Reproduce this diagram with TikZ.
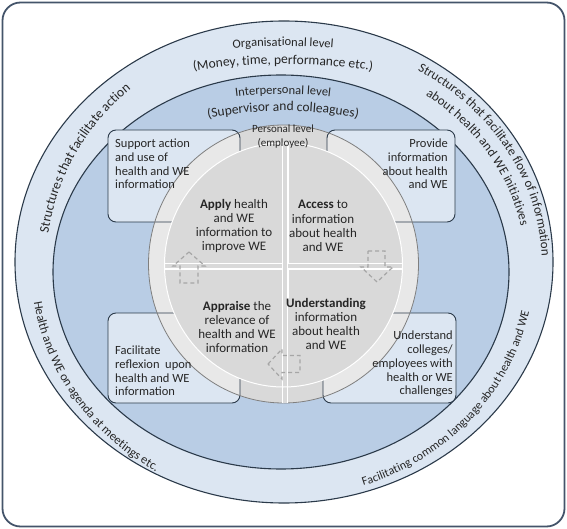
\documentclass[tikz,border=0pt]{standalone}
\usepackage{fontspec}
\setmainfont{Carlito}
\usetikzlibrary{decorations.text}
\definecolor{frameC}{HTML}{44546A}
\definecolor{outerC}{HTML}{DCE6F2}
\definecolor{interC}{HTML}{B9CDE5}
\definecolor{boxC}{HTML}{DCE6F2}
\definecolor{lineC}{HTML}{2B3A4A}
\definecolor{ringC}{HTML}{E8E8E8}
\definecolor{diskC}{HTML}{D9D9D9}
\definecolor{ringline}{HTML}{7F7F7F}
\definecolor{arrowC}{HTML}{A6A6A6}
\definecolor{txtC}{HTML}{262626}
\newcommand\curvfont{\fontsize{13}{15}\selectfont}
\newcommand\curvfontA{\fontsize{12.5}{14}\selectfont}
\newcommand\curvfontB{\fontsize{13.5}{15}\selectfont}
\newcommand\curvfontS{\fontsize{12}{13}\selectfont}
\begin{document}
\begin{tikzpicture}[x=1pt,y=1pt,
  boxst/.style={fill=boxC, draw=lineC, line width=0.9pt, rounded corners=8pt},
  boxline/.style={draw=lineC, line width=0.9pt, rounded corners=8pt},
  boxtext/.style={inner sep=0pt, font=\fontsize{12.5}{13.8}\selectfont, text=txtC},
  qtext/.style={inner sep=0pt, align=center, font=\fontsize{13}{14.3}\selectfont, text=txtC},
  ptext/.style={inner sep=0pt, font=\fontsize{11}{12}\selectfont, text=txtC},
  dasharrow/.style={draw=arrowC, line width=1.2pt, dash pattern=on 4pt off 3pt},
  curvtext/.style={decorate, decoration={text along path, text align=center, text color=txtC, text={#1}}}
]
\useasboundingbox (0,0) rectangle (567,-529);
% frame
\draw[frameC, line width=1.8pt, rounded corners=18pt] (2.5,-2.5) rectangle (564.5,-526.5);
% level ellipses
\draw[lineC, line width=1.1pt, fill=outerC] (284,-262) ellipse[x radius=269, y radius=241];
\draw[lineC, line width=1.1pt, fill=interC] (281,-272) ellipse[x radius=228, y radius=197];
% boxes
\draw[boxst] (108,-130) rectangle (240,-222);
\draw[boxst] (327,-130) rectangle (455,-222);
\draw[boxst] (108,-313) rectangle (240,-403);
\draw[boxst] (323,-313) rectangle (456,-403);
% ring
\fill[ringC] (283.5,-264) ellipse[x radius=135, y radius=139];
\begin{scope}
  \clip (283.5,-264) ellipse[x radius=135, y radius=139];
  \fill[diskC] (240,-100) rectangle (327,-200);
  \fill[diskC] (240,-330) rectangle (323,-420);
  \draw[boxline] (108,-130) rectangle (240,-222);
  \draw[boxline] (327,-130) rectangle (455,-222);
  \draw[boxline] (108,-313) rectangle (240,-403);
  \draw[boxline] (323,-313) rectangle (456,-403);
\end{scope}
\draw[ringline, line width=0.8pt] (283.5,-264) ellipse[x radius=135, y radius=139];
% disk
\fill[diskC] (283.5,-265) ellipse[x radius=119, y radius=122];
\begin{scope}
  \clip (283.5,-265) ellipse[x radius=119, y radius=122];
  \draw[white, line width=7pt] (160,-266) -- (410,-266);
  \draw[white, line width=7pt] (285,-140) -- (285,-300);
  \draw[diskC, line width=4.5pt] (160,-266) -- (410,-266);
  \draw[diskC, line width=4.5pt] (285,-140) -- (285,-300);
\end{scope}
\begin{scope}
  \clip (283.5,-264) ellipse[x radius=135, y radius=139];
  \draw[white, line width=6pt] (285,-262) -- (285,-410);
  \draw[diskC, line width=4pt] (285,-262) -- (285,-410);
\end{scope}
\draw[white, line width=1pt] (283.5,-265) ellipse[x radius=119, y radius=122];
% dashed block arrows
\draw[dasharrow] (189,-252) -- (205,-266) -- (198,-266) -- (198,-283) -- (180,-283) -- (180,-266) -- (173,-266) -- cycle;
\draw[dasharrow] (368,-251) -- (385,-251) -- (385,-267) -- (393,-267) -- (377,-282) -- (361,-267) -- (368,-267) -- cycle;
\draw[dasharrow] (268,-364) -- (282,-349) -- (282,-355.5) -- (300,-355.5) -- (300,-372.5) -- (282,-372.5) -- (282,-379) -- cycle;
% box texts
\node[boxtext, anchor=west, align=left] (tltext) at (115,-164) {Support action\\and use of\\health and WE\\information};
\node[boxtext, anchor=east, align=right] (trtext) at (448,-164) {Provide\\information\\about health\\and WE};
\node[boxtext, anchor=west, align=left] (bltext) at (115,-371) {Facilitate\\reflexion\ \ upon\\health and WE\\information};
\node[boxtext, anchor=east, align=right] (brtext) at (453,-364) {Understand\\colleges/\\employees with\\health or WE\\challenges};
% quadrant texts
\node[qtext] (apply) at (234,-226) {\textbf{Apply} health\\and WE\\information to\\improve WE};
\node[qtext] (access) at (323,-226) {\textbf{Access} to\\information\\about health\\and WE};
\node[qtext] (appraise) at (237,-327) {\textbf{Appraise} the\\relevance of\\health and WE\\information};
\node[qtext] (underst) at (326,-324) {\textbf{Understanding}\\information\\about health\\and WE};
% personal level
\node[ptext] (pers1) at (283,-129) {Personal level};
\node[ptext] (pers2) at (283,-143) {(employee)};
% curved texts: top
\path[shift={(283,-646)}, curvtext={|\curvfontA|Organisational level}] (100:600) arc[start angle=100, end angle=80, radius=600];
\path[shift={(283,-664)}, curvtext={|\curvfontB|(Money, time, performance etc.)}] (100:600) arc[start angle=100, end angle=80, radius=600];
\path[shift={(283,-494)}, curvtext={|\curvfontA|Interpersonal level}] (108:400) arc[start angle=108, end angle=72, radius=400];
\path[shift={(283,-511)}, curvtext={|\curvfontB|(Supervisor and colleagues)}] (108:400) arc[start angle=108, end angle=72, radius=400];
% curved texts: sides
\path[shift={(283,-266)}, curvtext={|\curvfontB|Structures that facilitate action}] (185:237 and 231) arc[start angle=185, end angle=117, x radius=237, y radius=231];
\path[shift={(283,-266)}, curvtext={|\curvfont|Structures that facilitate flow of information}] (70:259 and 229) arc[start angle=70, end angle=-10, x radius=259, y radius=229];
\path[shift={(283,-266)}, curvtext={|\curvfont|about health and WE initiatives}] (70:242 and 211) arc[start angle=70, end angle=-7, x radius=242, y radius=211];
\path[shift={(283,-266)}, curvtext={|\curvfontA|Health and WE on agenda at meetings etc.}] (178:252 and 238) arc[start angle=178, end angle=250, x radius=252, y radius=238];
\path[shift={(283,-266)}, curvtext={|\curvfontS|Facilitating common language about health and WE}] (278:251 and 232) arc[start angle=278, end angle=360, x radius=251, y radius=232];
\end{tikzpicture}
\end{document}
